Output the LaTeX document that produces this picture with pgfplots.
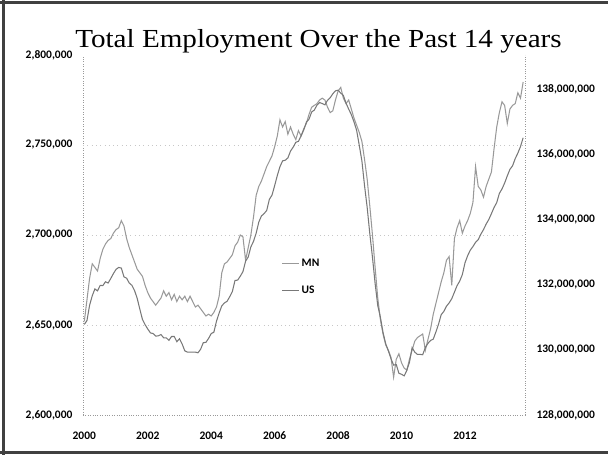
\documentclass[border=0pt]{standalone}
\usepackage{fontspec}
\setmainfont{Carlito}
\newfontfamily\titlefont{Liberation Serif}
\usepackage{graphicx}
\usepackage{pgfplots}
\usepackage{pgfplotstable}
\pgfplotsset{compat=1.18}

\definecolor{mnc}{gray}{0.6}
\definecolor{usc}{gray}{0.47}
\definecolor{framec}{gray}{0.25}

% m = months since Jan 2000, mn = MN employment (thousands), us = US employment (millions)
\pgfplotstableread{
m mn us
0 2652 130.78
1 2664 130.90
2 2676 131.37
3 2684 131.66
4 2682 131.87
5 2680 131.81
6 2687 131.98
7 2692 131.97
8 2695 132.09
9 2697 132.05
10 2698 132.19
11 2701 132.34
12 2703 132.47
13 2704 132.53
14 2708 132.51
15 2705 132.24
16 2698 132.20
17 2693 132.05
18 2689 131.98
19 2685 131.82
20 2681 131.58
21 2679 131.25
22 2677 130.93
23 2672 130.77
24 2668 130.64
25 2665 130.52
26 2663 130.50
27 2661 130.42
28 2663 130.43
29 2665 130.47
30 2669 130.37
31 2666 130.37
32 2668 130.29
33 2664 130.41
34 2667 130.41
35 2663 130.25
36 2666 130.34
37 2664 130.18
38 2666 129.97
39 2663 129.93
40 2666 129.93
41 2663 129.93
42 2660 129.93
43 2661 129.91
44 2659 130.02
45 2657 130.22
46 2655 130.23
47 2656 130.35
48 2655 130.50
49 2657 130.54
50 2660 130.88
51 2666 131.13
52 2679 131.35
53 2684 131.44
54 2685 131.49
55 2687 131.63
56 2689 131.79
57 2694 132.13
58 2696 132.14
59 2700 132.26
60 2699 132.40
61 2686 132.72
62 2693 132.85
63 2700 133.16
64 2710 133.33
65 2722 133.58
66 2727 133.92
67 2730 134.11
68 2734 134.18
69 2738 134.28
70 2741 134.62
71 2744 134.75
72 2749 135.04
73 2755 135.35
74 2764 135.62
75 2760 135.80
76 2763 135.82
77 2756 135.89
78 2760 136.10
79 2756 136.22
80 2753 136.37
81 2758 136.40
82 2755 136.57
83 2759 136.75
84 2762 136.99
85 2767 137.08
86 2771 137.30
87 2772 137.36
88 2773 137.51
89 2775 137.59
90 2776 137.56
91 2775 137.52
92 2771 137.66
93 2768 137.74
94 2769 137.86
95 2775 137.95
96 2780 137.97
97 2782 137.88
98 2776 137.81
99 2773 137.57
100 2775 137.39
101 2770 137.22
102 2765 137.00
103 2761 136.74
104 2757 136.28
105 2752 135.80
106 2742 135.04
107 2731 134.37
108 2716 133.56
109 2700 132.84
110 2682 132.04
111 2665 131.36
112 2653 131.00
113 2645 130.53
114 2639 130.19
115 2636 129.97
116 2632 129.73
117 2621 129.53
118 2631 129.55
119 2634 129.28
120 2629 129.25
121 2626 129.20
122 2625 129.37
123 2631 129.62
124 2636 130.07
125 2641 129.93
126 2643 129.86
127 2644 129.86
128 2645 129.85
129 2636 130.07
130 2642 130.20
131 2648 130.29
132 2656 130.33
133 2662 130.55
134 2668 130.79
135 2674 131.08
136 2679 131.18
137 2686 131.34
138 2688 131.44
139 2672 131.57
140 2698 131.77
141 2704 131.97
142 2708 132.11
143 2701 132.31
144 2705 132.67
145 2708 132.89
146 2712 133.06
147 2718 133.17
148 2738 133.30
149 2727 133.38
150 2725 133.55
151 2721 133.69
152 2727 133.86
153 2731 134.00
154 2735 134.18
155 2748 134.37
156 2760 134.52
157 2768 134.80
158 2774 134.94
159 2772 135.12
160 2762 135.34
161 2770 135.54
162 2772 135.65
163 2773 135.87
164 2779 136.04
165 2776 136.24
166 2785 136.51
}\data

\begin{document}
\begin{tikzpicture}[x=1pt,y=1pt]
\useasboundingbox (0,0) rectangle (608,455);
% frame round the picture
\draw[framec, line width=3pt] (3.5,0) -- (3.5,455);
\draw[framec, line width=2.5pt] (0,452.5) -- (608,452.5);
\draw[framec, line width=2.5pt] (0,2.5) -- (608,2.5);

\pgfplotsset{
  every axis/.append style={
    at={(83pt,40pt)}, anchor=south west,
    scale only axis, width=442pt, height=360pt,
    xmin=-0.5, xmax=166.7,
    major tick length=0pt,
    axis line style={black!40, dash pattern=on 0.8pt off 1.6pt, line width=0.5pt},
    tick label style={font=\fontsize{11.5}{12}\selectfont\bfseries},
  }
}

% MN, left axis
\begin{axis}[
  axis x line*=bottom, axis y line*=left,
  ymin=2600, ymax=2800,
  xtick={0,24,...,144},
  xticklabels={2000,2002,2004,2006,2008,2010,2012},
  xticklabel style={yshift=-13pt},
  ytick={2600,2650,2700,2750,2800},
  yticklabels={{2,600,000},{2,650,000},{2,700,000},{2,750,000},{2,800,000}},
  yticklabel style={xshift=-7pt},
  extra y ticks={2650,2700,2750},
  extra y tick labels={},
  extra y tick style={grid=major},
  grid style={black!22, dash pattern=on 0.8pt off 3.5pt, line width=0.4pt},
]
\addplot[mnc, line width=1.05pt] table[x=m, y=mn] {\data};
\end{axis}

% US, right axis
\begin{axis}[
  axis x line=none, axis y line*=right,
  ymin=128, ymax=139.05,
  ytick={128,130,132,134,136,138},
  yticklabels={{128,000,000},{130,000,000},{132,000,000},{134,000,000},{136,000,000},{138,000,000}},
  yticklabel style={xshift=8pt},
  legend style={draw=none, fill=none, at={(0.449,0.383)}, anchor=west,
    font=\fontsize{11.5}{12}\selectfont\bfseries, row sep=14pt, inner sep=0pt},
  legend cell align=left,
  legend image code/.code={\draw[#1] (0pt,0pt) -- (17pt,0pt);},
]
\addlegendimage{mnc, line width=0.6pt}
\addlegendentry{MN}
\addplot[usc, line width=1.05pt] table[x=m, y=us] {\data};
\addlegendentry{US}
\end{axis}

\node[font=\titlefont\fontsize{26}{30}\selectfont, anchor=base]
  at (318.5,407) {\scalebox{1.12}[1]{Total Employment Over the Past 14 years}};
\end{tikzpicture}
\end{document}
